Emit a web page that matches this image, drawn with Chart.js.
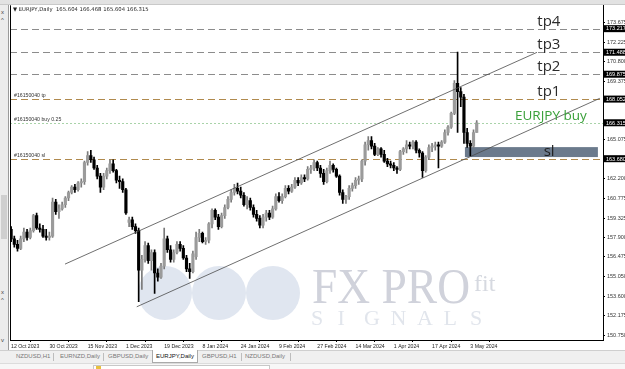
<!DOCTYPE html>
<html>
<head>
<meta charset="utf-8">
<script src="https://cdn.jsdelivr.net/npm/chart.js@4.4.1/dist/chart.umd.min.js"></script>
<style>
  body { margin: 0; width: 625px; height: 369px; overflow: hidden; background: #f3f3f3; font-family: "Liberation Sans", sans-serif; }
  #wrap { position: absolute; left: 0; top: 0; width: 625px; height: 350px; background: #fff; }
  #topbar { position: absolute; left: 0; top: 0; width: 625px; height: 4px; background: #e2e2e2; border-bottom: 1px solid #c9c9c9; }
  #side { position: absolute; left: 0; top: 5px; width: 8px; height: 345px; background: #ececec; border-right: 1px solid #9a9a9a; }
  #side .thumb { position: absolute; left: 1px; top: 190px; width: 6px; height: 44px; background: #cfcfcf; }
  #side .ic { position: absolute; left: 1px; font-size: 6px; color: #444; line-height: 6px; }
  #tabs { position: absolute; left: 0; top: 350px; width: 625px; height: 12px; background: #f0f0f0; border-top: 1px solid #cfcfcf; }
  #tabs span { position: absolute; top: 2px; font-size: 6px; color: #777; white-space: nowrap; }
  #tabs .sep { position: absolute; top: 2px; width: 1px; height: 8px; background: #bdbdbd; }
  #tabs .active { position: absolute; top: -1px; left: 152px; width: 44px; height: 12px; background: #fff; border: 1px solid #aaa; border-top: none; }
  #status { position: absolute; left: 0; top: 363px; width: 625px; height: 6px; background: #f7f7f7; border-top: 1px solid #dcdcdc; }
  #status .tip { position: absolute; left: 93px; top: 1px; width: 175px; height: 6px; background: #fff; border: 1px solid #c8c8c8; }
  #status .ico { position: absolute; left: 96px; top: 2px; width: 5px; height: 4px; background: #e8c040; }
</style>
</head>
<body>
<div id="wrap"><canvas id="chart" width="625" height="350"></canvas></div>
<div id="topbar"></div>
<div id="side">
  <div class="ic" style="top:4px">x</div>
  <div class="ic" style="top:12px">^</div>
  <div class="thumb"></div>
  <div class="ic" style="top:284px">x</div>
  <div class="ic" style="top:292px">^</div>
  <div class="ic" style="top:332px">v</div>
</div>
<div id="tabs">
  <div class="active"></div>
  <span style="left:16px">NZDUSD,H1</span><div class="sep" style="left:53px"></div>
  <span style="left:60px">EURNZD,Daily</span><div class="sep" style="left:103px"></div>
  <span style="left:108px">GBPUSD,Daily</span>
  <span style="left:156px;color:#111">EURJPY,Daily</span>
  <span style="left:202px">GBPUSD,H1</span><div class="sep" style="left:241px"></div>
  <span style="left:245px">NZDUSD,Daily</span><div class="sep" style="left:290px"></div>
</div>
<div id="status"><div class="tip"></div><div class="ico"></div></div>

<script>
// EURJPY daily candles, 12 Oct 2023 .. 7 May 2024 (one entry per trading day)
const opens = [
  158.5,157.8,157.4,157.1,157.8,158.3,157.9,158.4,159.5,158.6,158.5,158.0,157.9,158.0,160.5,159.8,160.0,160.3,160.8,161.2,
  161.6,161.4,161.9,162.0,163.4,163.9,163.6,163.0,162.4,161.6,162.4,162.8,163.3,162.8,162.1,162.0,161.4,159.0,159.2,158.7,
  158.4,155.5,156.3,157.3,156.2,156.8,155.3,155.0,155.8,157.8,157.0,156.3,156.8,157.4,157.1,156.4,155.6,155.4,156.5,157.9,
  158.2,157.6,157.7,158.9,159.9,159.4,158.7,159.5,160.1,160.7,161.2,161.5,161.3,161.0,160.3,160.6,160.1,159.6,159.3,158.8,
  159.4,159.7,159.4,160.0,160.9,160.6,160.9,161.5,161.3,161.6,162.1,161.9,162.3,162.2,162.9,163.0,163.4,163.0,162.6,162.0,
  162.8,163.2,162.9,162.4,161.2,160.7,160.9,161.5,161.7,162.1,162.2,163.5,164.7,165.0,164.6,164.0,164.4,164.0,163.5,163.3,
  163.2,163.0,162.9,164.2,164.4,164.7,164.6,164.9,164.3,164.1,162.8,163.8,164.5,164.6,164.7,164.6,164.9,165.6,166.0,167.0,
  169.2,168.6,168.2,165.6,164.8,164.6,165.604
];
const highs = [
  158.7,158.0,157.7,158.0,158.6,158.5,158.6,159.6,159.7,158.9,158.8,158.5,158.3,160.8,160.7,160.3,160.5,160.9,161.3,161.7,
  161.8,162.0,162.2,163.5,164.2,164.3,163.8,163.2,162.6,162.6,163.0,163.6,163.6,162.9,162.4,162.2,161.5,159.4,159.4,158.9,
  158.6,156.6,157.6,157.5,157.0,157.0,155.6,156.0,158.6,158.0,157.3,157.0,157.6,157.6,157.3,156.6,156.0,156.9,158.3,158.5,
  158.3,157.9,159.0,160.0,160.0,159.6,159.7,160.3,160.9,161.4,161.8,161.9,161.6,161.2,160.9,160.8,160.3,159.9,159.5,159.6,
  159.9,159.9,160.2,161.1,161.2,161.1,161.7,161.7,161.8,162.3,162.3,162.5,162.5,163.1,163.2,163.6,163.5,163.2,162.9,163.0,
  163.5,163.3,163.0,162.5,161.4,161.0,161.7,161.9,162.3,162.4,163.6,164.9,165.3,165.3,164.8,164.5,164.5,164.3,163.7,163.5,
  163.4,163.1,164.3,164.5,165.0,164.9,165.0,165.0,164.4,164.2,163.9,164.7,164.8,164.9,164.9,165.0,165.8,166.1,167.1,169.4,
  171.5,168.9,168.4,165.9,165.0,165.8,166.468
];
const lows = [
  157.6,157.2,156.9,157.0,157.6,157.7,157.8,158.3,158.5,158.3,157.9,157.7,157.7,157.9,159.6,159.3,159.9,160.1,160.6,161.1,
  161.2,161.3,161.6,161.8,163.2,163.4,162.9,162.2,161.2,161.4,162.2,162.6,162.7,161.9,161.5,161.2,159.6,158.7,158.5,158.2,
  153.2,154.1,156.1,156.0,155.5,153.8,154.7,154.9,155.6,156.8,156.1,156.1,156.7,156.9,156.3,155.4,154.9,155.3,156.3,157.6,
  157.5,157.4,157.5,158.6,159.2,158.5,158.6,159.3,160.0,160.5,161.0,161.1,160.8,160.2,160.0,159.9,159.4,159.1,158.6,158.6,
  159.1,159.2,159.3,159.9,160.5,160.4,160.8,161.1,161.2,161.5,161.7,161.8,162.0,162.1,162.6,162.8,162.8,162.3,161.8,161.9,
  162.6,162.7,162.3,161.0,160.4,160.4,160.7,161.3,161.5,161.8,162.0,163.2,164.3,164.4,163.9,163.9,163.8,163.4,163.1,163.0,
  162.8,162.6,162.8,164.0,164.1,164.4,164.4,164.1,163.8,162.3,162.7,163.6,164.2,164.3,163.0,164.5,164.8,165.4,165.9,166.9,
  165.6,167.5,164.8,164.5,163.9,164.5,165.604
];
const closes = [
  157.8,157.4,157.1,157.8,158.3,157.9,158.4,159.5,158.6,158.5,158.0,157.9,158.0,160.5,159.8,160.0,160.3,160.8,161.2,161.6,
  161.4,161.9,162.0,163.4,163.9,163.6,163.0,162.4,161.6,162.4,162.8,163.3,162.8,162.1,162.0,161.4,159.7,159.2,158.7,158.4,
  155.5,156.3,157.3,156.2,156.8,155.3,155.0,155.8,157.8,157.0,156.3,156.8,157.4,157.1,156.4,155.6,155.4,156.7,157.9,158.2,
  157.6,157.7,158.9,159.9,159.4,158.7,159.5,160.1,160.7,161.2,161.5,161.3,161.0,160.3,160.6,160.1,159.6,159.3,158.8,159.4,
  159.7,159.4,160.0,160.9,160.6,160.9,161.5,161.3,161.6,162.1,161.9,162.3,162.2,162.9,163.0,163.4,163.0,162.6,162.0,162.8,
  163.2,162.9,162.4,161.2,160.7,160.9,161.5,161.7,162.1,162.2,163.5,164.7,165.0,164.6,164.0,164.4,164.0,163.5,163.3,163.2,
  163.0,162.9,164.2,164.4,164.7,164.6,164.9,164.3,164.1,162.8,163.8,164.5,164.6,164.7,164.6,164.9,165.6,166.0,167.0,169.2,
  168.6,168.2,165.6,164.8,164.6,165.6,166.315
];

const xTickIndex = [0, 12, 24, 36, 48, 60, 72, 84, 96, 108, 120, 132, 144];
const xTickLabels = ['12 Oct 2023', '30 Oct 2023', '15 Nov 2023', '1 Dec 2023', '19 Dec 2023', '8 Jan 2024',
  '24 Jan 2024', '9 Feb 2024', '27 Feb 2024', '14 Mar 2024', '1 Apr 2024', '17 Apr 2024', '3 May 2024'];
const yTickValues = [150.750, 152.175, 153.600, 155.050, 156.475, 157.900, 159.325, 160.775, 162.200,
  165.075, 169.375, 170.800, 172.225, 173.675];

// trade plan levels
const targetNames = ['tp4', 'tp3', 'tp2', 'tp1'];
const targetLevels = [173.217, 171.488, 169.875, 168.052];
const orderNames = ['#16150040 tp', '#16150040 buy 0.25', '#16150040 sl'];
const orderLevels = [168.052, 166.315, 163.680];
const axisMarks = [173.217, 171.488, 169.875, 168.052, 166.315, 163.680];
// channel lines: [bar index, price] end points
const channelUpper = [[16.9, 155.95], [164.9, 171.48]];
const channelLower = [[39.4, 152.82], [184.6, 168.11]];
// stop-loss zone: from bar, to bar, low price, high price
const slZone = [142.3, 184.0, 163.80, 164.53];
const headerText = '\u25BC EURJPY,Daily  165.604 166.468 165.604 166.315';

const upColor = '#9b9b9b';
const downColor = '#000000';
const isUp = opens.map((o, i) => closes[i] >= o);

const overlay = {
  id: 'overlay',
  beforeDatasetsDraw(chart) {
    const { ctx, chartArea: a, scales: { x, y } } = chart;
    ctx.save();
    ctx.beginPath();
    ctx.rect(a.left, a.top, a.right - a.left, a.bottom - a.top);
    ctx.clip();

    // watermark
    ctx.fillStyle = '#e0e6f0';
    [165, 219, 273].forEach(cx => {
      ctx.beginPath();
      ctx.arc(cx, 293, 27, 0, Math.PI * 2);
      ctx.fill();
    });
    ctx.fillStyle = '#d0d2db';
    ctx.font = '50px "Liberation Serif"';
    ctx.textBaseline = 'alphabetic';
    const w = ctx.measureText('FX PRO').width;
    ctx.save();
    ctx.translate(312, 303);
    ctx.scale(158 / w, 1);
    ctx.fillText('FX PRO', 0, 0);
    ctx.restore();
    ctx.fillStyle = '#d6d9e0';
    ctx.font = '24px "Liberation Serif"';
    ctx.fillText('fit', 474, 291);
    ctx.fillStyle = '#e1e5ec';
    ctx.font = '22px "Liberation Serif"';
    'SIGNALS'.split('').forEach((ch, i) => ctx.fillText(ch, 311 + i * 26.5, 325));

    // stop-loss zone
    ctx.fillStyle = '#6b7a8c';
    const zx1 = x.getPixelForValue(slZone[0]), zx2 = x.getPixelForValue(slZone[1]);
    const zy1 = y.getPixelForValue(slZone[3]), zy2 = y.getPixelForValue(slZone[2]);
    ctx.fillRect(zx1, zy1, zx2 - zx1, zy2 - zy1);

    // target lines
    ctx.lineWidth = 1;
    ctx.setLineDash([7, 4]);
    ctx.strokeStyle = '#8c8c8c';
    targetLevels.forEach(v => {
      const py = Math.round(y.getPixelForValue(v)) + 0.5;
      ctx.beginPath(); ctx.moveTo(a.left, py); ctx.lineTo(a.right, py); ctx.stroke();
    });
    // order lines
    orderLevels.forEach((v, i) => {
      const py = Math.round(y.getPixelForValue(v)) + 0.5;
      if (i === 1) { ctx.setLineDash([2, 2]); ctx.strokeStyle = '#a9d3a9'; }
      else { ctx.setLineDash([7, 4]); ctx.strokeStyle = '#b08a4e'; }
      ctx.beginPath(); ctx.moveTo(a.left, py); ctx.lineTo(a.right, py); ctx.stroke();
    });
    ctx.restore();
  },
  afterDatasetsDraw(chart) {
    const { ctx, chartArea: a, scales: { x, y } } = chart;
    ctx.save();
    // channel
    ctx.strokeStyle = '#4a4a4a';
    ctx.lineWidth = 0.8;
    [channelUpper, channelLower].forEach(l => {
      ctx.beginPath();
      ctx.moveTo(x.getPixelForValue(l[0][0]), y.getPixelForValue(l[0][1]));
      ctx.lineTo(x.getPixelForValue(l[1][0]), y.getPixelForValue(l[1][1]));
      ctx.stroke();
    });

    // level names
    ctx.textBaseline = 'alphabetic';
    ctx.font = '15px "Open Sans"';
    ctx.fillStyle = '#2b2b2b';
    targetNames.forEach((n, i) => {
      ctx.fillText(n, x.getPixelForValue(165), y.getPixelForValue(targetLevels[i]) - 3);
    });
    ctx.fillStyle = '#3aa03a';
    ctx.font = '13.5px "Open Sans"';
    ctx.fillText('EURJPY buy', x.getPixelForValue(158), y.getPixelForValue(orderLevels[1]) - 3);
    ctx.fillStyle = '#1e1e1e';
    ctx.font = '15px "Open Sans"';
    ctx.fillText('sl', x.getPixelForValue(167), y.getPixelForValue(slZone[2]) - 1);

    // order labels
    ctx.font = '5.2px "Liberation Sans"';
    ctx.fillStyle = '#333';
    orderNames.forEach((n, i) => {
      ctx.fillText(n, a.left + 4, y.getPixelForValue(orderLevels[i]) - 2);
    });
    // header
    ctx.font = '5.3px "DejaVu Sans"';
    ctx.fillStyle = '#222';
    ctx.fillText(headerText, a.left + 3, a.top + 5.5);

    // left frame line
    ctx.strokeStyle = '#000';
    ctx.lineWidth = 1;
    ctx.beginPath(); ctx.moveTo(a.left + 0.5, a.top); ctx.lineTo(a.left + 0.5, a.bottom); ctx.stroke();
    ctx.restore();
  },
  afterDraw(chart) {
    const { ctx, chartArea: a, scales: { y } } = chart;
    ctx.save();
    ctx.font = '5.5px "Liberation Sans"';
    ctx.textBaseline = 'middle';
    axisMarks.forEach(v => {
      const py = y.getPixelForValue(v);
      ctx.fillStyle = '#000';
      ctx.fillRect(a.right + 1, py - 3.5, 21, 7);
      ctx.fillStyle = '#fff';
      ctx.fillText(v.toFixed(3), a.right + 3, py + 0.3);
    });
    ctx.restore();
  }
};

new Chart(document.getElementById('chart'), {
  type: 'bar',
  data: {
    datasets: [
      {
        label: 'wick',
        data: opens.map((o, i) => ({ x: i, y: [lows[i], highs[i]] })),
        backgroundColor: isUp.map(u => (u ? '#7a7a7a' : '#000')),
        barThickness: 1,
        grouped: false,
        order: 2
      },
      {
        label: 'body',
        data: opens.map((o, i) => ({ x: i, y: [o, closes[i]] })),
        backgroundColor: isUp.map(u => (u ? upColor : downColor)),
        borderColor: isUp.map(u => (u ? '#777' : '#000')),
        borderWidth: 0,
        barThickness: 2.5,
        minBarLength: 1,
        grouped: false,
        order: 1
      }
    ]
  },
  options: {
    responsive: false,
    animation: false,
    devicePixelRatio: 1,
    layout: { padding: { left: 10, top: 5, right: 0, bottom: 0 } },
    plugins: { legend: { display: false }, tooltip: { enabled: false } },
    scales: {
      x: {
        type: 'linear',
        min: -0.35,
        max: 185.6,
        offset: false,
        afterBuildTicks: s => { s.ticks = xTickIndex.map(v => ({ value: v })); },
        afterFit: s => { s.height = 10; },
        ticks: {
          callback: v => xTickLabels[xTickIndex.indexOf(v)] || '',
          align: 'start',
          autoSkip: false,
          maxRotation: 0,
          minRotation: 0,
          padding: 1,
          color: '#222',
          font: { family: 'Liberation Sans', size: 5.2 }
        },
        grid: { drawOnChartArea: false, tickLength: 2, color: '#000' },
        border: { color: '#000' }
      },
      y: {
        position: 'right',
        min: 150.384,
        max: 174.93,
        afterBuildTicks: s => { s.ticks = yTickValues.map(v => ({ value: v })); },
        afterFit: s => { s.width = 22; },
        ticks: {
          callback: v => v.toFixed(3),
          padding: 2,
          color: '#333',
          font: { family: 'Liberation Sans', size: 5.5 }
        },
        grid: { drawOnChartArea: false, tickLength: 2, color: '#000' },
        border: { color: '#000' }
      }
    }
  },
  plugins: [overlay]
});
</script>
</body>
</html>
